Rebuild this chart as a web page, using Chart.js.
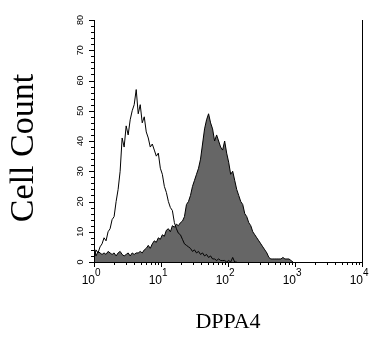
<!DOCTYPE html>
<html>
<head>
<meta charset="utf-8">
<script src="https://cdn.jsdelivr.net/npm/chart.js@4"></script>
<style>
  html, body { margin: 0; padding: 0; background: #fff; }
  #wrap { width: 369px; height: 349px; }
</style>
</head>
<body>
<div id="wrap"><canvas id="histo"></canvas></div>
<script>
// log10 of fluorescence, and counts per bin
const dppa4Log = [0.00,0.03,0.06,0.09,0.12,0.15,0.18,0.21,0.24,0.27,0.30,0.33,0.36,0.39,0.42,0.45,0.48,0.51,0.54,0.57,
  0.60,0.63,0.66,0.69,0.72,0.75,0.78,0.81,0.84,0.87,0.90,0.93,0.96,0.99,1.02,1.05,1.08,1.11,1.14,1.17,
  1.20,1.23,1.26,1.29,1.32,1.35,1.38,1.41,1.44,1.47,1.50,1.53,1.56,1.59,1.62,1.65,1.68,1.71,1.74,1.77,
  1.80,1.83,1.86,1.89,1.92,1.95,1.98,2.01,2.04,2.07,2.10,2.13,2.16,2.19,2.22,2.25,2.28,2.31,2.34,2.37,
  2.40,2.43,2.46,2.49,2.52,2.55,2.58,2.61,2.64,2.67,2.70,2.73,2.76,2.79,2.82,2.85,2.88,2.91,2.94,2.97]
const dppa4Counts = [5,2,3.5,3,2.5,3,2.5,3.5,3,2.5,3,2,3,3.5,2.5,2,2.5,3,2,3,
  2.5,3,3,3.5,3,4,4.5,5.5,4.5,6,7,6.5,8,7.5,9,8.5,10.5,11,10,12,
  11.5,12.5,12,13,13.5,15,19,20,22,25,27,29,31,34,39,44,47,49,46,44,
  40,42,40,38,37,40,36,33,29,30,27,24,22,20,19,16,15,13,12,10,
  9,8,7,6,5,4,3,1.5,1,1,1,1,1,1,1.5,1,1,1,0.5,0]

const controlLog = [0.00,0.03,0.06,0.09,0.12,0.15,0.18,0.21,0.24,0.27,0.30,0.33,0.36,0.39,0.42,0.45,0.48,0.51,0.54,0.57,
  0.60,0.63,0.66,0.69,0.72,0.75,0.78,0.81,0.84,0.87,0.90,0.93,0.96,0.99,1.02,1.05,1.08,1.11,1.14,1.17,
  1.20,1.23,1.26,1.29,1.32,1.35,1.38,1.41,1.44,1.47,1.50,1.53,1.56,1.59,1.62,1.65,1.68,1.71,1.74,1.77,
  1.80,1.83,1.86,1.89,1.92,1.95,1.98,2.01,2.04,2.07,2.10,2.13]
const controlCounts = [1,4,3,5,6,8,7,10,11,14,15,20,24,30,41,38,45,42,47,50,
  52,57,49,52,46,48,43,41,38,39,37,35,36,31,29,25,23,20,18,17,
  13,11,9.5,9,7.5,6,5.5,5,4.5,3.5,4,3,3.5,2.5,3,2,2.5,1.5,2,1,
  1,0.5,1,0.5,0.5,0.5,0,0.5,0,1.5,0,0]

const xDecades = [0, 1, 2, 3, 4]
const yTicks = [0, 10, 20, 30, 40, 50, 60, 70, 80]

const toPoints = (logs, counts) => logs.map((l, i) => ({ x: Math.pow(10, l), y: counts[i] }))

// axes drawn by hand: rotated y labels, 10^n labels, log minor ticks
const axesPlugin = {
    id: 'flowAxes',
    afterDraw(chart) {
        const ctx = chart.ctx
        const xs = chart.scales.x
        const ys = chart.scales.y
        const area = chart.chartArea
        ctx.save()
        ctx.strokeStyle = '#000'
        ctx.fillStyle = '#000'
        ctx.lineWidth = 1

        ctx.beginPath()
        ctx.moveTo(area.left + 0.5, area.top)
        ctx.lineTo(area.left + 0.5, area.bottom + 0.5)
        ctx.lineTo(area.right + 0.5, area.bottom + 0.5)
        ctx.lineTo(area.right + 0.5, area.top)
        ctx.stroke()

        // y ticks every 2, labels every 10
        ctx.beginPath()
        for (let v = 0; v <= 80; v += 2) {
            const py = Math.round(ys.getPixelForValue(v)) + 0.5
            const len = v % 10 === 0 ? 5 : 3
            ctx.moveTo(area.left - len, py)
            ctx.lineTo(area.left, py)
        }
        ctx.stroke()
        ctx.font = '9px "Liberation Sans", Arial'
        ctx.textAlign = 'center'
        ctx.textBaseline = 'middle'
        yTicks.forEach(v => {
            const py = ys.getPixelForValue(v)
            ctx.save()
            ctx.translate(area.left - 13, py)
            ctx.rotate(-Math.PI / 2)
            ctx.fillText(String(v), 0, 0)
            ctx.restore()
        })

        // x ticks: decades + 2..9
        ctx.beginPath()
        xDecades.forEach(d => {
            for (let m = 1; m <= 9; m++) {
                if (d === 4 && m > 1) break
                const px = Math.round(xs.getPixelForValue(m * Math.pow(10, d))) + 0.5
                const len = m === 1 ? 5 : 3
                ctx.moveTo(px, area.bottom)
                ctx.lineTo(px, area.bottom + len)
            }
        })
        ctx.stroke()
        xDecades.forEach(d => {
            const px = xs.getPixelForValue(Math.pow(10, d))
            ctx.font = '12px "Liberation Sans", Arial'
            ctx.textAlign = 'right'
            ctx.textBaseline = 'alphabetic'
            ctx.fillText('10', px + 1, area.bottom + 22)
            ctx.font = '10px "Liberation Sans", Arial'
            ctx.textAlign = 'left'
            ctx.fillText(String(d), px + 1, area.bottom + 14)
        })

        // axis titles
        ctx.font = '34px "Liberation Serif", "Times New Roman", serif'
        ctx.textAlign = 'center'
        ctx.textBaseline = 'middle'
        ctx.save()
        ctx.translate(24, (area.top + area.bottom) / 2 + 7)
        ctx.rotate(-Math.PI / 2)
        ctx.fillText('Cell Count', 0, 0)
        ctx.restore()
        ctx.font = '22px "Liberation Serif", "Times New Roman", serif'
        ctx.fillText('DPPA4', (area.left + area.right) / 2, 322)
        ctx.restore()
    }
}

const ctx = document.getElementById('histo').getContext('2d')
const histo = new Chart(ctx, {
    type: 'line',
    data: {
        datasets: [{
            label: 'Control',
            data: toPoints(controlLog, controlCounts),
            borderColor: '#000',
            borderWidth: 1,
            fill: false,
            pointRadius: 0,
            tension: 0
        }, {
            label: 'DPPA4',
            data: toPoints(dppa4Log, dppa4Counts),
            borderColor: '#000',
            borderWidth: 1,
            backgroundColor: '#666666',
            fill: 'origin',
            pointRadius: 0,
            tension: 0
        }]
    },
    options: {
        responsive: true,
        maintainAspectRatio: false,
        animation: false,
        layout: {
            padding: { left: 94, right: 7, top: 20, bottom: 87 }
        },
        plugins: {
            legend: { display: false },
            tooltip: { enabled: false }
        },
        scales: {
            x: { type: 'logarithmic', min: 1, max: 10000, display: false },
            y: { type: 'linear', min: 0, max: 80, display: false }
        }
    },
    plugins: [axesPlugin]
})
</script>
</body>
</html>
